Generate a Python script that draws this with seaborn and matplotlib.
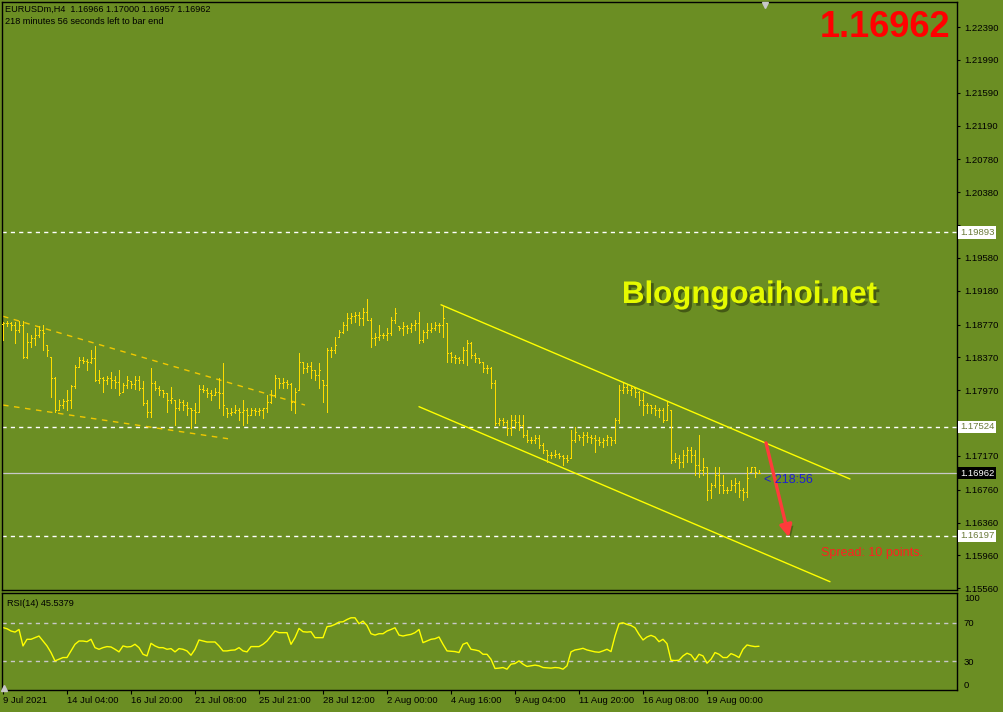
import numpy as np
import matplotlib
matplotlib.use("Agg")
import matplotlib.pyplot as plt
import matplotlib.patheffects as pe
import seaborn as sns

# ---------------- data ----------------
opens = [1.1878, 1.1879, 1.1879, 1.1876, 1.1870, 1.1876, 1.1837, 1.1856, 1.1861, 1.1864,
         1.1870, 1.1852, 1.1837, 1.1812, 1.1773, 1.1779, 1.1784, 1.1785, 1.1802, 1.1825,
         1.1834, 1.1833, 1.1831, 1.1836, 1.1809, 1.1812, 1.1809, 1.1812, 1.1809, 1.1807,
         1.1795, 1.1803, 1.1808, 1.1804, 1.1809, 1.1800, 1.1781, 1.1770, 1.1806, 1.1800,
         1.1797, 1.1794, 1.1785, 1.1785, 1.1776, 1.1783, 1.1779, 1.1775, 1.1773, 1.1770,
         1.1798, 1.1797, 1.1794, 1.1791, 1.1795, 1.1794, 1.1775, 1.1769, 1.1770, 1.1773,
         1.1770, 1.1773, 1.1767, 1.1773, 1.1772, 1.1773, 1.1775, 1.1783, 1.1791, 1.1812,
         1.1806, 1.1807, 1.1804, 1.1783, 1.1797, 1.1831, 1.1824, 1.1826, 1.1822, 1.1816,
         1.1809, 1.1803, 1.1846, 1.1846, 1.1862, 1.1868, 1.1876, 1.1885, 1.1887, 1.1888,
         1.1885, 1.1892, 1.1882, 1.1861, 1.1862, 1.1864, 1.1864, 1.1867, 1.1882, 1.1875,
         1.1873, 1.1875, 1.1873, 1.1876, 1.1879, 1.1858, 1.1868, 1.1870, 1.1873, 1.1876,
         1.1876, 1.1879, 1.1842, 1.1837, 1.1836, 1.1834, 1.1846, 1.1854, 1.1840, 1.1836,
         1.1831, 1.1824, 1.1824, 1.1806, 1.1757, 1.1761, 1.1758, 1.1751, 1.1761, 1.1758,
         1.1755, 1.1743, 1.1736, 1.1736, 1.1739, 1.1730, 1.1724, 1.1718, 1.1718, 1.1719,
         1.1717, 1.1715, 1.1715, 1.1736, 1.1743, 1.1740, 1.1743, 1.1740, 1.1739, 1.1736,
         1.1734, 1.1736, 1.1740, 1.1736, 1.1761, 1.1797, 1.1801, 1.1797, 1.1800, 1.1795,
         1.1785, 1.1779, 1.1779, 1.1775, 1.1773, 1.1773, 1.1761, 1.1773, 1.1712, 1.1715,
         1.1710, 1.1718, 1.1724, 1.1718, 1.1706, 1.1700, 1.1703, 1.1676, 1.1682, 1.1694,
         1.1682, 1.1676, 1.1676, 1.1682, 1.1684, 1.1676, 1.1673, 1.1698, 1.1703, 1.16966]

highs = [1.1880, 1.1881, 1.1880, 1.1880, 1.1881, 1.1881, 1.1867, 1.1864, 1.1873, 1.1875,
         1.1876, 1.1852, 1.1837, 1.1813, 1.1785, 1.1786, 1.1797, 1.1803, 1.1828, 1.1837,
         1.1837, 1.1835, 1.1846, 1.1851, 1.1822, 1.1813, 1.1814, 1.1819, 1.1814, 1.1822,
         1.1806, 1.1814, 1.1808, 1.1814, 1.1814, 1.1808, 1.1785, 1.1824, 1.1808, 1.1802,
         1.1797, 1.1794, 1.1801, 1.1785, 1.1786, 1.1785, 1.1783, 1.1775, 1.1781, 1.1803,
         1.1803, 1.1800, 1.1797, 1.1800, 1.1812, 1.1830, 1.1775, 1.1776, 1.1779, 1.1776,
         1.1785, 1.1775, 1.1775, 1.1775, 1.1775, 1.1776, 1.1791, 1.1797, 1.1816, 1.1812,
         1.1812, 1.1809, 1.1806, 1.1800, 1.1842, 1.1831, 1.1830, 1.1831, 1.1822, 1.1830,
         1.1809, 1.1848, 1.1850, 1.1862, 1.1870, 1.1880, 1.1891, 1.1891, 1.1892, 1.1892,
         1.1897, 1.1908, 1.1885, 1.1867, 1.1876, 1.1867, 1.1873, 1.1886, 1.1897, 1.1875,
         1.1880, 1.1876, 1.1879, 1.1882, 1.1892, 1.1870, 1.1879, 1.1879, 1.1880, 1.1879,
         1.1901, 1.1879, 1.1843, 1.1840, 1.1837, 1.1850, 1.1858, 1.1856, 1.1842, 1.1836,
         1.1831, 1.1828, 1.1825, 1.1809, 1.1763, 1.1763, 1.1761, 1.1767, 1.1767, 1.1767,
         1.1767, 1.1749, 1.1740, 1.1743, 1.1743, 1.1733, 1.1724, 1.1722, 1.1724, 1.1721,
         1.1718, 1.1718, 1.1749, 1.1752, 1.1743, 1.1746, 1.1746, 1.1743, 1.1743, 1.1740,
         1.1739, 1.1743, 1.1740, 1.1763, 1.1803, 1.1806, 1.1803, 1.1803, 1.1800, 1.1796,
         1.1794, 1.1781, 1.1779, 1.1779, 1.1776, 1.1775, 1.1783, 1.1773, 1.1721, 1.1718,
         1.1724, 1.1728, 1.1728, 1.1724, 1.1743, 1.1715, 1.1704, 1.1684, 1.1704, 1.1704,
         1.1694, 1.1679, 1.1688, 1.1690, 1.1686, 1.1678, 1.1704, 1.1704, 1.1703, 1.17000]

lows = [1.1858, 1.1875, 1.1870, 1.1854, 1.1868, 1.1836, 1.1836, 1.1850, 1.1852, 1.1862,
        1.1846, 1.1839, 1.1789, 1.1770, 1.1773, 1.1776, 1.1773, 1.1775, 1.1800, 1.1825,
        1.1830, 1.1822, 1.1830, 1.1808, 1.1806, 1.1795, 1.1805, 1.1800, 1.1800, 1.1791,
        1.1795, 1.1800, 1.1800, 1.1798, 1.1797, 1.1779, 1.1764, 1.1764, 1.1797, 1.1791,
        1.1789, 1.1770, 1.1781, 1.1755, 1.1773, 1.1773, 1.1767, 1.1751, 1.1757, 1.1770,
        1.1795, 1.1789, 1.1785, 1.1791, 1.1776, 1.1767, 1.1764, 1.1767, 1.1769, 1.1761,
        1.1755, 1.1757, 1.1767, 1.1767, 1.1767, 1.1763, 1.1770, 1.1781, 1.1789, 1.1800,
        1.1800, 1.1800, 1.1773, 1.1769, 1.1797, 1.1818, 1.1819, 1.1812, 1.1809, 1.1800,
        1.1783, 1.1770, 1.1837, 1.1842, 1.1862, 1.1867, 1.1870, 1.1879, 1.1880, 1.1876,
        1.1876, 1.1882, 1.1850, 1.1852, 1.1858, 1.1861, 1.1858, 1.1864, 1.1879, 1.1870,
        1.1864, 1.1867, 1.1868, 1.1870, 1.1854, 1.1856, 1.1861, 1.1868, 1.1870, 1.1868,
        1.1862, 1.1831, 1.1831, 1.1830, 1.1830, 1.1830, 1.1828, 1.1836, 1.1831, 1.1830,
        1.1819, 1.1818, 1.1800, 1.1755, 1.1755, 1.1755, 1.1743, 1.1743, 1.1751, 1.1749,
        1.1740, 1.1734, 1.1733, 1.1733, 1.1727, 1.1721, 1.1710, 1.1715, 1.1716, 1.1715,
        1.1706, 1.1710, 1.1715, 1.1734, 1.1736, 1.1730, 1.1734, 1.1733, 1.1722, 1.1730,
        1.1728, 1.1730, 1.1730, 1.1733, 1.1757, 1.1794, 1.1794, 1.1791, 1.1789, 1.1779,
        1.1767, 1.1769, 1.1769, 1.1767, 1.1764, 1.1758, 1.1761, 1.1709, 1.1710, 1.1702,
        1.1703, 1.1710, 1.1710, 1.1694, 1.1691, 1.1694, 1.1663, 1.1666, 1.1679, 1.1672,
        1.1672, 1.1672, 1.1676, 1.1673, 1.1667, 1.1663, 1.1667, 1.1698, 1.1691, 1.16957]

closes = [1.1879, 1.1879, 1.1876, 1.1870, 1.1876, 1.1837, 1.1856, 1.1861, 1.1864, 1.1870,
          1.1867, 1.1846, 1.1812, 1.1773, 1.1779, 1.1784, 1.1785, 1.1802, 1.1825, 1.1834,
          1.1833, 1.1831, 1.1836, 1.1809, 1.1812, 1.1809, 1.1812, 1.1809, 1.1807, 1.1794,
          1.1803, 1.1809, 1.1804, 1.1809, 1.1800, 1.1781, 1.1770, 1.1806, 1.1800, 1.1797,
          1.1794, 1.1785, 1.1787, 1.1776, 1.1783, 1.1779, 1.1775, 1.1773, 1.1770, 1.1798,
          1.1797, 1.1794, 1.1791, 1.1795, 1.1794, 1.1779, 1.1769, 1.1770, 1.1773, 1.1770,
          1.1773, 1.1767, 1.1773, 1.1772, 1.1773, 1.1775, 1.1783, 1.1791, 1.1812, 1.1806,
          1.1807, 1.1804, 1.1783, 1.1795, 1.1831, 1.1824, 1.1826, 1.1822, 1.1816, 1.1822,
          1.1803, 1.1846, 1.1846, 1.1852, 1.1868, 1.1876, 1.1885, 1.1887, 1.1888, 1.1885,
          1.1892, 1.1882, 1.1861, 1.1862, 1.1864, 1.1864, 1.1867, 1.1882, 1.1891, 1.1873,
          1.1875, 1.1873, 1.1876, 1.1879, 1.1858, 1.1868, 1.1870, 1.1873, 1.1876, 1.1876,
          1.1885, 1.1842, 1.1837, 1.1836, 1.1834, 1.1846, 1.1854, 1.1840, 1.1836, 1.1831,
          1.1824, 1.1824, 1.1806, 1.1757, 1.1761, 1.1758, 1.1751, 1.1761, 1.1758, 1.1755,
          1.1743, 1.1736, 1.1736, 1.1739, 1.1730, 1.1724, 1.1718, 1.1718, 1.1719, 1.1717,
          1.1715, 1.1712, 1.1736, 1.1746, 1.1740, 1.1743, 1.1740, 1.1739, 1.1736, 1.1734,
          1.1736, 1.1740, 1.1736, 1.1761, 1.1797, 1.1801, 1.1797, 1.1800, 1.1795, 1.1785,
          1.1779, 1.1779, 1.1775, 1.1773, 1.1773, 1.1761, 1.1779, 1.1712, 1.1715, 1.1710,
          1.1718, 1.1724, 1.1718, 1.1706, 1.1700, 1.1703, 1.1676, 1.1682, 1.1694, 1.1682,
          1.1676, 1.1676, 1.1682, 1.1684, 1.1676, 1.1673, 1.1690, 1.1703, 1.1698, 1.16962]

rsi = [65.0, 63.8, 61.4, 60.3, 63.0, 45.9, 52.8, 52.8, 54.5, 56.2,
       51.0, 45.9, 39.0, 30.3, 32.0, 33.8, 33.8, 40.7, 47.6, 51.0,
       51.0, 50.3, 52.8, 44.1, 42.4, 44.1, 45.2, 44.8, 42.4, 39.7,
       45.9, 44.8, 45.2, 47.6, 44.1, 37.2, 35.5, 48.6, 45.9, 44.1,
       44.1, 42.4, 43.1, 39.7, 43.1, 42.4, 40.7, 36.2, 42.4, 52.1,
       51.0, 50.0, 50.0, 50.0, 45.9, 40.7, 40.7, 41.4, 41.7, 44.1,
       40.7, 39.7, 45.2, 45.2, 45.2, 47.6, 51.0, 56.2, 61.4, 59.7,
       59.7, 59.7, 47.6, 54.5, 64.1, 60.7, 60.3, 60.7, 54.5, 54.5,
       54.5, 65.9, 66.6, 68.3, 70.7, 71.0, 73.4, 75.2, 75.2, 69.0,
       71.7, 67.2, 58.6, 57.2, 58.6, 58.6, 61.4, 63.0, 64.8, 57.2,
       56.2, 57.2, 57.9, 59.7, 63.0, 49.3, 51.0, 52.8, 53.4, 55.2,
       47.6, 40.7, 40.3, 40.0, 39.0, 47.6, 49.3, 42.4, 41.7, 40.7,
       37.2, 37.2, 32.0, 22.4, 22.8, 23.4, 21.7, 26.9, 27.6, 30.3,
       26.9, 24.5, 25.2, 25.9, 25.2, 23.4, 23.1, 22.8, 23.4, 23.1,
       21.7, 25.2, 39.7, 41.7, 42.4, 43.4, 41.7, 40.7, 39.7, 39.3,
       40.7, 42.4, 40.0, 56.2, 69.0, 70.0, 68.3, 67.2, 64.8, 57.9,
       52.1, 55.2, 56.9, 55.2, 50.3, 52.8, 48.3, 31.0, 30.7, 31.0,
       35.5, 38.3, 36.6, 31.0, 37.2, 35.5, 27.9, 32.0, 39.0, 37.2,
       33.8, 33.8, 37.9, 36.2, 33.8, 42.4, 46.9, 45.9, 45.2, 45.5379]

price_ticks = [1.22390, 1.21990, 1.21590, 1.21190, 1.20780, 1.20380, 1.19980, 1.19580,
               1.19180, 1.18770, 1.18370, 1.17970, 1.17570, 1.17170, 1.16760, 1.16360,
               1.15960, 1.15560]
hidden_price_ticks = [1.19980, 1.17570]   # covered by the line labels in the reference
rsi_ticks = [0, 30, 70, 100]
rsi_levels = [70, 30]
date_tick_bars = [0, 16, 32, 48, 64, 80, 96, 112, 128, 144, 160, 176]
date_labels = ["9 Jul 2021", "14 Jul 04:00", "16 Jul 20:00", "21 Jul 08:00",
               "25 Jul 21:00", "28 Jul 12:00", "2 Aug 00:00", "4 Aug 16:00",
               "9 Aug 04:00", "11 Aug 20:00", "16 Aug 08:00", "19 Aug 00:00"]

hlines_levels = [1.19893, 1.17524, 1.16197]
bid_price = 1.16962
# trend lines (bar index, price)
chan_upper_x, chan_upper_y = [109.5, 211.75], [1.1901, 1.1689]
chan_lower_x, chan_lower_y = [104.0, 206.75], [1.1777, 1.1564]
old_upper_x, old_upper_y = [0.0, 75.5], [1.1887, 1.1779]
old_lower_x, old_lower_y = [0.0, 56.25], [1.1779, 1.1738]
arrow_from = (190.75, 1.1733)
arrow_to = (196.5, 1.1618)

header1 = "EURUSDm,H4  1.16966 1.17000 1.16957 1.16962"
header2 = "218 minutes 56 seconds left to bar end"

# ---------------- style ----------------
sns.set_theme(style="ticks")
plt.rcParams["font.family"] = ["Liberation Sans", "DejaVu Sans"]
plt.rcParams["lines.scale_dashes"] = False

BG = "#6B8E23"
BAR = "#FFDC00"
W, H = 1004, 712

fig = plt.figure(figsize=(W / 100, H / 100), dpi=100, facecolor=BG)


def box(x0, y0, x1, y1):
    return [x0 / W, 1 - y1 / H, (x1 - x0) / W, (y1 - y0) / H]


ax = fig.add_axes(box(2, 2, 957, 590))
axr = fig.add_axes(box(2, 593, 957, 690))

for a in (ax, axr):
    a.set_facecolor(BG)
    for s in a.spines.values():
        s.set_color("black")
        s.set_linewidth(1.0)
    a.set_xlim(-0.25, 238.5)

# ---------------- price panel ----------------
idx = np.arange(len(closes))
ax.vlines(idx, lows, highs, color=BAR, lw=0.7, antialiased=False, zorder=3)
ax.hlines(opens, idx - 0.3, idx, color=BAR, lw=0.7, antialiased=False, zorder=3)
ax.hlines(closes, idx, idx + 0.3, color=BAR, lw=0.7, antialiased=False, zorder=3)

ax.set_ylim(1.15539, 1.22695)

for lv in hlines_levels:
    ax.axhline(lv, color="white", lw=1, dashes=(3, 3), zorder=2)
ax.axhline(bid_price, color="#C8C8C8", lw=0.9, zorder=2)

ax.plot(chan_upper_x, chan_upper_y, color="#FFFF00", lw=1, zorder=2)
ax.plot(chan_lower_x, chan_lower_y, color="#FFFF00", lw=1, zorder=2)
ax.plot(old_upper_x, old_upper_y, color="#F0C800", lw=1, dashes=(4, 4), zorder=2)
ax.plot(old_lower_x, old_lower_y, color="#F0C800", lw=1, dashes=(4, 4), zorder=2)

ann = ax.annotate("", xy=arrow_to, xytext=arrow_from,
                  arrowprops=dict(arrowstyle="-|>,head_length=0.6,head_width=0.3",
                                  color="#FF3B3B", lw=2.4, shrinkA=0, shrinkB=0),
                  zorder=5)
ann.arrow_patch.set_path_effects([pe.SimplePatchShadow(offset=(2, -2), shadow_rgbFace="#2f3c0c", alpha=0.5),
                                  pe.Normal()])

ax.yaxis.tick_right()
ax.set_yticks(price_ticks)
ax.set_yticklabels(["" if p in hidden_price_ticks else f"{p:.5f}" for p in price_ticks])
ax.tick_params(axis="y", direction="out", length=2.5, width=0.8, pad=2.5,
               labelsize=6.8, colors="black")
ax.tick_params(axis="x", bottom=False, labelbottom=False)

ytr = ax.get_yaxis_transform()
for lv in hlines_levels:
    ax.text(1.0 + 3 / 955, lv, f"{lv:.5f}", transform=ytr, ha="left", va="center",
            fontsize=6.8, color="#6B7B3A", clip_on=False, zorder=10,
            bbox=dict(boxstyle="square,pad=0.2", fc="white", ec="none"))
ax.text(1.0 + 3 / 955, bid_price, f"{bid_price:.5f}", transform=ytr, ha="left", va="center",
        fontsize=6.8, color="white", clip_on=False, zorder=10,
        bbox=dict(boxstyle="square,pad=0.2", fc="black", ec="none"))

ax.text(3 / 955, 1 - 7 / 588, header1, transform=ax.transAxes, fontsize=6.6,
        color="black", va="center", ha="left")
ax.text(3 / 955, 1 - 20 / 588, header2, transform=ax.transAxes, fontsize=6.6,
        color="black", va="center", ha="left")

ax.text((950 - 2) / 955, 1 - 35 / 588, "1.16962", transform=ax.transAxes, ha="right",
        va="baseline", fontsize=26, fontweight="bold", color="#FF0000")

ax.text(0.7827, 1 - 301 / 588, "Blogngoaihoi.net", transform=ax.transAxes, ha="center",
        va="baseline", fontsize=22.5, fontweight="bold", color="#E6FA00",
        path_effects=[pe.withSimplePatchShadow(offset=(2, -2), shadow_rgbFace="#2a360a", alpha=0.6)])

ax.text(190.3, 1.1688, "< 218:56", color="#1E1ED2", fontsize=9, va="center", ha="left", zorder=6)
ax.text((821 - 2) / 955, 1 - 551 / 588, "Spread: 10 points.", transform=ax.transAxes,
        color="#FF2020", fontsize=9, va="center", ha="left")

ax.plot([(765 - 2) / 955], [1 - 3 / 588], marker="v", ms=5, color="#C8C8C8",
        transform=ax.transAxes, clip_on=False, zorder=10)

# ---------------- RSI panel ----------------
sns.lineplot(x=idx, y=rsi, ax=axr, color="#FFFF00", lw=1, legend=False)
for lv in rsi_levels:
    axr.axhline(lv, color="#C8C8C8", lw=1, dashes=(3, 3), zorder=1)
axr.set_ylim(0, 101)
axr.yaxis.tick_right()
axr.set_yticks(rsi_ticks)
axr.set_yticklabels([str(t) for t in rsi_ticks])
axr.tick_params(axis="y", direction="out", length=0, pad=5, labelsize=6.8, colors="black")
labs = axr.get_yticklabels()
labs[0].set_va("bottom")
labs[-1].set_va("top")
axr.set_ylabel("")
axr.set_xlim(-0.25, 238.5)
axr.set_xticks(date_tick_bars)
axr.set_xticklabels(date_labels)
axr.tick_params(axis="x", direction="out", length=3, width=0.8, pad=1.5,
                labelsize=6.8, colors="black")
for lab in axr.get_xticklabels():
    lab.set_ha("left")
axr.text(5 / 955, 1 - 10 / 97, "RSI(14) 45.5379", transform=axr.transAxes, fontsize=6.6,
         color="black", va="center", ha="left")
axr.plot([2 / 955], [2 / 97], marker="^", ms=4, color="#C8C8C8",
         transform=axr.transAxes, clip_on=False, zorder=10)

fig.savefig("out.png", dpi=100, facecolor=BG)
